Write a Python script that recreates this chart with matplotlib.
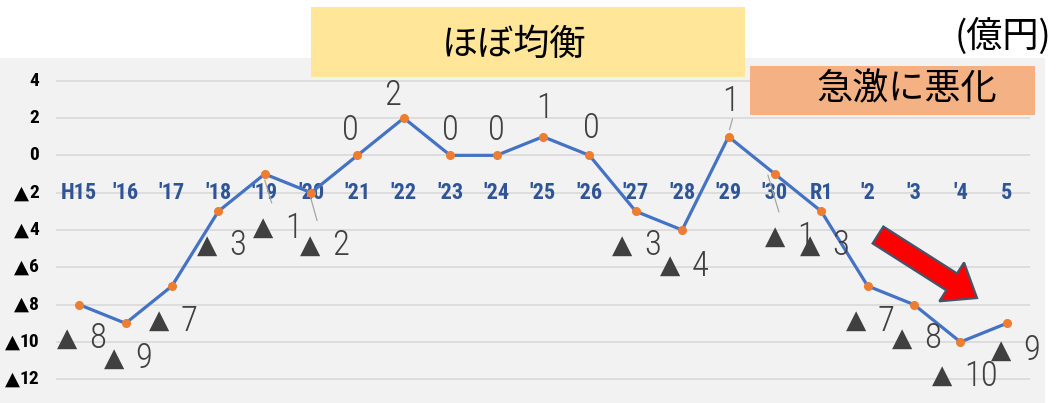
import matplotlib
matplotlib.use('Agg')
import matplotlib.pyplot as plt
import matplotlib.transforms as mtransforms
from matplotlib.patches import Rectangle, FancyArrow

# データ（億円）
years = ['H15', "'16", "'17", "'18", "'19", "'20", "'21", "'22", "'23", "'24", "'25",
         "'26", "'27", "'28", "'29", "'30", 'R1', "'2", "'3", "'4", '5']
balance = [-8, -9, -7, -3, -1, -2, 0, 2, 0, 0, 1, 0, -3, -4, 1, -1, -3, -7, -8, -10, -9]
yticks = [4, 2, 0, -2, -4, -6, -8, -10, -12]

# ラベル位置（点からのピクセルずれ、画像の下向き正）
label_off = [(-12, 34), (-12, 35), (-13, 35), (-11, 34), (-2, 54), (-1, 53), (-7, -25),
             (-11, -23), (0, -25), (0, -25), (2, -28), (2, -27), (-14, 34), (-12, 36),
             (2, -35), (0, 63), (-11, 34), (-12, 35), (-12, 34), (-18, 34), (-6, 27)]
leaders = {4: ((0, 6), (7, 29)), 5: ((-1, 3), (6, 28)), 14: ((1, -7), (4, -18)), 15: ((-7, 1), (4, 38))}

W, H = 1058, 403
NARROW = ['Roboto Condensed', 'Liberation Sans Narrow', 'Liberation Sans', 'DejaVu Sans']
CJK = ['Noto Sans CJK JP', 'DejaVu Sans']

fig = plt.figure(figsize=(W / 100, H / 100), dpi=100)
fig.patch.set_facecolor('white')


def fx(x):
    return x / W


def fy(y):
    return 1 - y / H


# 背景
fig.add_artist(Rectangle((0, 0), fx(1045), 1 - 58 / H, transform=fig.transFigure,
                         facecolor='#f2f2f2', edgecolor='none', zorder=-1))

unit = (379.3 - 80.7) / 16
top_px = 80.7 - 0.6 * unit
bot_px = 379.3 + 0.6 * unit
ax = fig.add_axes([fx(56), 1 - bot_px / H, (1030 - 56) / W, (bot_px - top_px) / H])
ax.set_facecolor('none')
ax.set_xlim(-0.5, len(years) - 0.5)
ax.set_ylim(-12.6, 4.6)
for s in ax.spines.values():
    s.set_visible(False)
ax.set_xticks([])
ax.set_yticks(yticks)
ax.set_yticklabels([])
ax.tick_params(axis='y', length=0)
ax.yaxis.grid(True, color='#d9d9d9', lw=1.2)
ax.set_axisbelow(True)

# 目盛ラベル（▲はマイナス）
ytr = ax.get_yaxis_transform()
for v in yticks:
    num = str(abs(v))
    ax.text(0, v, num, transform=ytr + mtransforms.ScaledTranslation(-17 / 100, 0, fig.dpi_scale_trans),
            ha='right', va='center', family=NARROW, fontsize=14, fontweight='bold', color='black')
    if v < 0:
        tx = -17 - 8.5 * len(num) - 2
        ax.text(0, v, '▲', transform=ytr + mtransforms.ScaledTranslation(tx / 100, 0, fig.dpi_scale_trans),
                ha='right', va='center', family='DejaVu Sans', fontsize=14, color='black')

x = list(range(len(years)))
ax.plot(x, balance, color='#4472c4', lw=2.3, zorder=3)
ax.plot(x, balance, 'o', color='#ed7d31', ms=5.5, zorder=4)

# 年度ラベル（-2 の線上）
for i, lab in enumerate(years):
    ax.text(i, -2, lab, ha='center', va='center', family=NARROW, fontsize=16,
            fontweight='bold', color='#2f5597', zorder=2)


def px(dx, dy):
    return mtransforms.offset_copy(ax.transData, fig=fig, x=dx, y=-dy, units='dots')


for i, v in enumerate(balance):
    dx, dy = label_off[i]
    if v >= 0:
        ax.text(i, v, str(v), transform=px(dx, dy), ha='center', va='center',
                family=NARROW, fontweight='light', fontsize=25, color='#404040', zorder=5)
    else:
        ax.text(i, v, '▲', transform=px(dx, dy), ha='center', va='center',
                family='DejaVu Sans', fontsize=19, color='#404040', zorder=5)
        ax.text(i, v, str(-v), transform=px(dx + 22, dy), ha='left', va='center',
                family=NARROW, fontweight='light', fontsize=25, color='#404040', zorder=5)

for i, (a, b) in leaders.items():
    ax.annotate('', xy=(i, balance[i]), xycoords=px(*a), xytext=(i, balance[i]),
                textcoords=px(*b),
                arrowprops=dict(arrowstyle='-', color='#a6a6a6', lw=0.9, shrinkA=0, shrinkB=0))

# 注記ボックス
fig.add_artist(Rectangle((fx(311), fy(77)), (745 - 311) / W, 70 / H, transform=fig.transFigure,
                         facecolor='#ffe699', edgecolor='none', zorder=6))
fig.text(fx(514), fy(45), 'ほぼ均衡', ha='center', va='center', family=CJK, fontsize=26,
         color='black', zorder=7)
fig.add_artist(Rectangle((fx(750), fy(115)), (1035 - 750) / W, 49 / H, transform=fig.transFigure,
                         facecolor='#f4b183', edgecolor='none', zorder=6))
fig.text(fx(907), fy(89), '急激に悪化', ha='center', va='center', family=CJK, fontsize=26,
         color='black', zorder=7)
fig.text(fx(1003), fy(36), '(億円)', ha='center', va='center', family=CJK, fontsize=26,
         color='black', zorder=7)

# 赤い矢印
fig.add_artist(FancyArrow(878, H - 235, 99, -63, width=20, head_width=46, head_length=30,
                          length_includes_head=True, facecolor='#ff0000', edgecolor='#44546a',
                          lw=1.6, transform=mtransforms.IdentityTransform(), zorder=8))

fig.savefig('out.png', dpi=100)
